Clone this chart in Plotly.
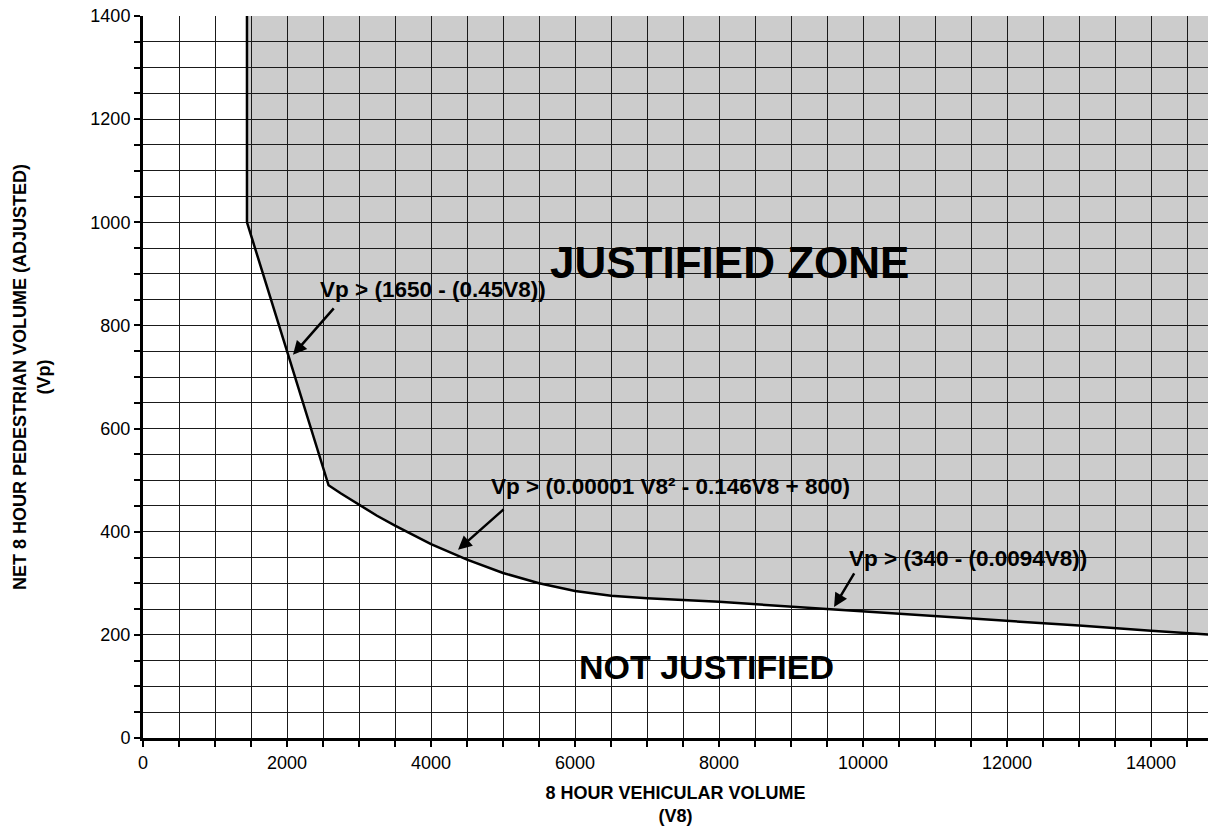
import plotly.graph_objects as go

# Boundary curve (V8 = 8 hour vehicular volume, Vp = net 8 hour pedestrian volume)
v8 = [1444, 1444, 2000, 2577, 2750, 3000, 3250, 3500, 4000, 4500, 5000, 5500, 6000, 6500,
      7000, 8000, 9000, 10000, 11000, 12000, 13000, 14000, 15000]
vp = [1400, 1000, 750, 490, 474, 452, 431, 412, 376, 346, 320, 300, 285, 276,
      271, 264, 255, 246, 237, 227, 218, 208, 199]

x_ticks = [0, 2000, 4000, 6000, 8000, 10000, 12000, 14000]
y_ticks = [0, 200, 400, 600, 800, 1000, 1200, 1400]

zone_labels = ["JUSTIFIED ZONE", "NOT JUSTIFIED"]
zone_x = [8150, 7820]
zone_y = [923, 138]

eq_labels = ["Vp > (1650 - (0.45V8))",
             "Vp > (0.00001 V8² - 0.146V8 + 800)",
             "Vp > (340 - (0.0094V8))"]
eq_x = [4028, 7319, 11458]
eq_y = [869, 487, 349]
arrow_head_x = [2083, 4375, 9597]
arrow_head_y = [743, 365, 254]
arrow_tail_x = [2667, 5028, 9889]
arrow_tail_y = [836, 446, 322]

FONT = "Liberation Sans, Arial, sans-serif"

fig = go.Figure()

# shaded justified zone (drawn below gridlines)
path = "M " + " L ".join(f"{a},{b}" for a, b in zip(v8, vp))
path += f" L {v8[-1]},{vp[0]} Z"
fig.add_shape(type="path", path=path, xref="x", yref="y", layer="below",
              fillcolor="#cccccc", line=dict(width=0))

fig.add_trace(go.Scatter(x=v8, y=vp, mode="lines",
                         line=dict(color="black", width=2.5),
                         hoverinfo="skip", showlegend=False))

for t, x, y, s in zip(zone_labels, zone_x, zone_y, [44, 34]):
    fig.add_annotation(x=x, y=y, text=f"<b>{t}</b>", showarrow=False,
                       font=dict(family=FONT, size=s, color="black"))

for t, x, y in zip(eq_labels, eq_x, eq_y):
    fig.add_annotation(x=x, y=y, text=f"<b>{t}</b>", showarrow=False,
                       font=dict(family=FONT, size=22.5, color="black"))

for hx, hy, tx, ty in zip(arrow_head_x, arrow_head_y, arrow_tail_x, arrow_tail_y):
    fig.add_annotation(x=hx, y=hy, ax=tx, ay=ty, axref="x", ayref="y",
                       xref="x", yref="y", text="", showarrow=True,
                       arrowhead=2, arrowsize=1.1, arrowwidth=2.5, arrowcolor="black")

GRID = "#1a1a1a"
fig.update_xaxes(range=[0, 14790], tickvals=x_ticks, ticktext=[str(v) for v in x_ticks],
                 showline=True, linecolor="black", linewidth=3,
                 ticks="outside", ticklen=6, tickwidth=2, tickcolor="black",
                 showgrid=True, gridcolor=GRID, gridwidth=1, zeroline=False,
                 ticklabeloverflow="allow",
                 minor=dict(dtick=500, tick0=0, showgrid=True, gridcolor=GRID, gridwidth=1,
                            ticks="outside", ticklen=6, tickwidth=2, tickcolor="black"),
                 tickfont=dict(family=FONT, size=18, color="black"),
                 title=dict(text="<b>8 HOUR VEHICULAR VOLUME<br>(V8)</b>",
                            font=dict(family=FONT, size=18, color="black"), standoff=24))
fig.update_yaxes(range=[0, 1400], tickvals=y_ticks, ticktext=[str(v) for v in y_ticks],
                 showline=True, linecolor="black", linewidth=3,
                 ticks="outside", ticklen=6, tickwidth=2, tickcolor="black",
                 showgrid=True, gridcolor=GRID, gridwidth=1, zeroline=False,
                 ticklabeloverflow="allow",
                 minor=dict(dtick=50, tick0=0, showgrid=True, gridcolor=GRID, gridwidth=1,
                            ticks="outside", ticklen=6, tickwidth=2, tickcolor="black"),
                 tickfont=dict(family=FONT, size=18, color="black"),
                 title=dict(text="<b>NET 8 HOUR PEDESTRIAN VOLUME (ADJUSTED)<br>(Vp)</b>",
                            font=dict(family=FONT, size=18, color="black"), standoff=36))

fig.update_layout(width=1208, height=826, margin=dict(l=143, r=0, t=16, b=88, autoexpand=False),
                  plot_bgcolor="white", paper_bgcolor="white", showlegend=False)

# remove the default page margin so the figure fills the window exactly
fig.write_html("out.html", config={"displayModeBar": False},
               post_script="document.body.style.margin='0';")
